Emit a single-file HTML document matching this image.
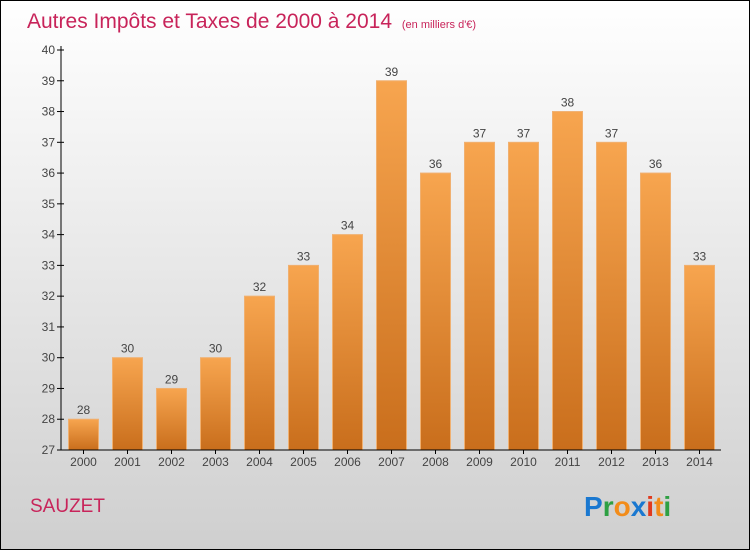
<!DOCTYPE html>
<html><head><meta charset="utf-8"><style>
body{margin:0;width:750px;height:550px;overflow:hidden;font-family:"Liberation Sans",sans-serif}
</style></head><body>
<svg id="chart" width="750" height="550" xmlns="http://www.w3.org/2000/svg">
<defs>
<linearGradient id="bg" x1="0" y1="0" x2="0" y2="1"><stop offset="0" stop-color="#ffffff"/><stop offset="1" stop-color="#cfcfcf"/></linearGradient>
<linearGradient id="bar" x1="0" y1="0" x2="0" y2="1"><stop offset="0" stop-color="#f7a54f"/><stop offset="1" stop-color="#c96e1c"/></linearGradient>
</defs>
<rect x="0.5" y="0.5" width="749" height="549" fill="url(#bg)" stroke="#000"/>
<text x="27" y="28" font-size="21" fill="#c8245a">Autres Impôts et Taxes de 2000 à 2014 <tspan font-size="11" dx="4">(en milliers d'€)</tspan></text>
<g id="yaxis"></g><g id="bars"></g><g id="xaxis"></g>
<text x="30" y="512" font-size="19" fill="#c8245a">SAUZET</text>
<g font-size="28" font-weight="bold" font-family="Liberation Sans, sans-serif">
<text x="584" y="516"><tspan fill="#1a78d0">P</tspan><tspan fill="#2ea043">r</tspan><tspan fill="#f28c1a">o</tspan><tspan fill="#1a78d0">x</tspan><tspan fill="#e03a1e">i</tspan><tspan fill="#f28c1a">t</tspan><tspan fill="#2ea043">i</tspan></text>
</g>
</svg>
<script>
const categories=["2000","2001","2002","2003","2004","2005","2006","2007","2008","2009","2010","2011","2012","2013","2014"];
const values=[28,30,29,30,32,33,34,39,36,37,37,38,37,36,33];
const yTicks=[27,28,29,30,31,32,33,34,35,36,37,38,39,40];
const NS="http://www.w3.org/2000/svg";
const x0=61,x1=721,yTop=50,yBot=450,yMin=27,yMax=40;
const y=v=>yBot-(v-yMin)/(yMax-yMin)*(yBot-yTop);
const step=(x1-x0)/categories.length;
const xc=i=>x0+step*(i+0.5)+0.5;
function mk(tag,attrs,parent,text){const e=document.createElementNS(NS,tag);for(const k in attrs)e.setAttribute(k,attrs[k]);if(text!==undefined)e.textContent=text;parent.appendChild(e);return e;}
const ya=document.getElementById('yaxis'),ba=document.getElementById('bars'),xa=document.getElementById('xaxis');
let l=mk('line',{x1:x0,y1:yTop-4,x2:x0,y2:yBot,stroke:'#000'},ya);


yTicks.forEach(t=>{
 const tk=mk('line',{x1:x0-4,x2:x0+3,y1:y(t),y2:y(t),stroke:'#000'},ya);
 
 
 const tx=mk('text',{x:x0-6,y:y(t)+4,'font-size':12,fill:'#444','text-anchor':'end'},ya,t);
 
 
});
values.forEach((v,i)=>{
 const r=mk('rect',{x:xc(i)-15,y:y(v),width:30,height:yBot-y(v),fill:'url(#bar)',stroke:'#f0b070','stroke-width':1},ba);
 
 
 const t=mk('text',{x:xc(i),y:y(v)-5,'font-size':12,fill:'#444','text-anchor':'middle'},ba,v);
 
 
 const c=mk('text',{x:xc(i),y:yBot+16,'font-size':12,fill:'#444','text-anchor':'middle'},xa,categories[i]);
 
 
 const tk=mk('line',{x1:xc(i),x2:xc(i),y1:yBot,y2:yBot+4,stroke:'#000'},xa);
 
 
});
const xl=mk('line',{x1:x0,x2:x1,y1:yBot,y2:yBot,stroke:'#000'},xa);


</script>
</body></html>
